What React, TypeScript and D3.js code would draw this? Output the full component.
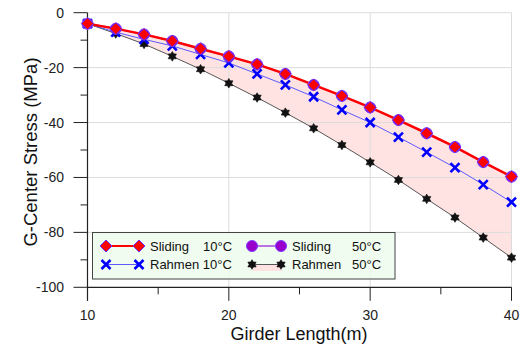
import React from "react";
import * as d3 from "d3";

const lengths = [10, 12, 14, 16, 18, 20, 22, 24, 26, 28, 30, 32, 34, 36, 38, 40];
const sliding10 = [-4.0, -5.8, -7.9, -10.3, -13.1, -15.9, -18.8, -22.3, -26.3, -30.3, -34.5, -39.1, -43.9, -48.9, -54.4, -59.7];
const sliding50 = [-4.0, -5.8, -7.9, -10.3, -13.1, -15.9, -18.8, -22.3, -26.3, -30.3, -34.5, -39.1, -43.9, -48.9, -54.4, -59.7];
const rahmen10 = [-4.0, -7.1, -9.7, -12.1, -15.2, -18.3, -22.3, -26.3, -30.6, -35.4, -40.0, -45.3, -50.8, -56.4, -62.6, -69.0];
const rahmen50 = [-4.0, -7.6, -11.4, -15.9, -20.6, -25.7, -30.9, -36.4, -42.1, -48.2, -54.5, -60.9, -67.8, -74.6, -81.9, -89.2];
const xMajor = [10, 20, 30, 40];
const xMinor = [15, 25, 35];
const yMajor = [0, -20, -40, -60, -80, -100];
const yMinor = [-10, -30, -50, -70, -90];

const x = d3.scaleLinear().domain([10, 40]).range([87.5, 511.5]);
const y = d3.scaleLinear().domain([0, -100]).range([12.7, 287.3]);

const FONT = "'Liberation Sans', Arial, sans-serif";

function Diamond({ cx, cy, r = 6 }: { cx: number; cy: number; r?: number }) {
  return (
    <path
      d={`M${cx},${cy - r}L${cx + r},${cy}L${cx},${cy + r}L${cx - r},${cy}Z`}
      fill="#ff0000"
      stroke="#6a2cff"
      strokeWidth={1}
    />
  );
}
function Cross({ cx, cy, r = 4.5 }: { cx: number; cy: number; r?: number }) {
  return (
    <path
      d={`M${cx - r},${cy - r}L${cx + r},${cy + r}M${cx - r},${cy + r}L${cx + r},${cy - r}`}
      stroke="#0000ff"
      strokeWidth={2.6}
      fill="none"
    />
  );
}
function Star({ cx, cy, r = 4.8 }: { cx: number; cy: number; r?: number }) {
  const pts: string[] = [];
  for (let i = 0; i < 12; i++) {
    const a = (Math.PI / 6) * i - Math.PI / 2;
    const rr = i % 2 === 0 ? r : r * 0.6;
    pts.push(`${cx + rr * Math.cos(a)},${cy + rr * Math.sin(a)}`);
  }
  return <polygon points={pts.join(" ")} fill="#111" stroke="#111" strokeWidth={0.6} />;
}
function Circle({ cx, cy, r = 5.5 }: { cx: number; cy: number; r?: number }) {
  return <circle cx={cx} cy={cy} r={r} fill="#9900cc" stroke="#7a3cff" strokeWidth={1} />;
}

export default function App() {
  const line = d3
    .line<number>()
    .x((_, i) => x(lengths[i]))
    .y((d) => y(d));
  const area = d3
    .area<number>()
    .x((_, i) => x(lengths[i]))
    .y0((_, i) => y(rahmen50[i]))
    .y1((d) => y(d));

  return (
    <svg
      width={524}
      height={346}
      style={{ position: "absolute", left: 0, top: 0, background: "#fff" }}
      fontFamily={FONT}
    >
      {/* fill band */}
      <path d={area(sliding10) || ""} fill="#ffe3e3" />
      {/* grid */}
      {xMajor.slice(1).map((v) => (
        <line key={"gx" + v} x1={x(v)} x2={x(v)} y1={y(0)} y2={y(-100)} stroke="#dcdcdc" strokeWidth={1} />
      ))}
      {yMajor.slice(0, -1).map((v) => (
        <line key={"gy" + v} x1={x(10)} x2={x(40)} y1={y(v)} y2={y(v)} stroke="#dcdcdc" strokeWidth={1} />
      ))}
      {/* axes */}
      <line x1={x(10)} x2={x(10)} y1={y(0)} y2={y(-100) + 13.5} stroke="#222" strokeWidth={1.2} />
      <line x1={x(10)} x2={x(40)} y1={y(-100)} y2={y(-100)} stroke="#222" strokeWidth={1.2} />
      {xMajor.map((v) => (
        <g key={"xt" + v}>
          <line x1={x(v)} x2={x(v)} y1={y(-100)} y2={y(-100) + 13.5} stroke="#222" strokeWidth={1} />
          <text x={x(v)} y={319.5} textAnchor="middle" fontSize={14} fill="#222">
            {v}
          </text>
        </g>
      ))}
      {xMinor.map((v) => (
        <line key={"xm" + v} x1={x(v)} x2={x(v)} y1={y(-100)} y2={y(-100) + 7} stroke="#222" strokeWidth={1} />
      ))}
      {yMajor.map((v) => (
        <g key={"yt" + v}>
          <line x1={x(10) - 14} x2={x(10)} y1={y(v)} y2={y(v)} stroke="#222" strokeWidth={1} />
          <text x={64} y={y(v) + 5} textAnchor="end" fontSize={14} fill="#222">
            {v}
          </text>
        </g>
      ))}
      {yMinor.map((v) => (
        <line key={"ym" + v} x1={x(10) - 7} x2={x(10)} y1={y(v)} y2={y(v)} stroke="#222" strokeWidth={1} />
      ))}
      {/* axis titles */}
      <text x={299} y={339.5} textAnchor="middle" fontSize={18} fill="#111">
        Girder Length(m)
      </text>
      <text
        transform="translate(37,152) rotate(-90)"
        textAnchor="middle"
        fontSize={18.5}
        fill="#111"
      >
        G-Center Stress (MPa)
      </text>
      {/* lines */}
      <path d={line(rahmen50) || ""} fill="none" stroke="#555" strokeWidth={1} />
      <path d={line(rahmen10) || ""} fill="none" stroke="#5a5aff" strokeWidth={1} />
      <path d={line(sliding50) || ""} fill="none" stroke="#aa44dd" strokeWidth={1.5} />
      <path d={line(sliding10) || ""} fill="none" stroke="#ff0000" strokeWidth={2.5} />
      {/* markers */}
      {rahmen50.map((v, i) => (
        <Star key={"s" + i} cx={x(lengths[i])} cy={y(v)} />
      ))}
      {rahmen10.map((v, i) => (
        <Cross key={"c" + i} cx={x(lengths[i])} cy={y(v)} />
      ))}
      {sliding50.map((v, i) => (
        <Circle key={"o" + i} cx={x(lengths[i])} cy={y(v)} />
      ))}
      {sliding10.map((v, i) => (
        <Diamond key={"d" + i} cx={x(lengths[i])} cy={y(v)} />
      ))}
      {/* legend */}
      <g>
        <rect x={92.5} y={232.5} width={302.5} height={46.5} fill="#eefcee" fillOpacity={0.9} stroke="#444" strokeWidth={1} />
        {/* row 1 */}
        <line x1={106} x2={139} y1={246} y2={246} stroke="#ff0000" strokeWidth={2} />
        <Diamond cx={106} cy={246} />
        <Diamond cx={139} cy={246} />
        <text x={150} y={250.5} fontSize={13} fill="#111">Sliding</text>
        <text x={203} y={250.5} fontSize={13} fill="#111">10°C</text>
        <line x1={252} x2={281} y1={246} y2={246} stroke="#aa44dd" strokeWidth={1.5} />
        <Circle cx={252} cy={246} />
        <Circle cx={281} cy={246} />
        <text x={292} y={250.5} fontSize={13} fill="#111">Sliding</text>
        <text x={352} y={250.5} fontSize={13} fill="#111">50°C</text>
        {/* row 2 */}
        <line x1={106} x2={139} y1={264.5} y2={264.5} stroke="#5a5aff" strokeWidth={1} />
        <Cross cx={106} cy={264.5} />
        <Cross cx={139} cy={264.5} />
        <text x={150} y={269} fontSize={13} fill="#111">Rahmen 10°C</text>
        <rect x={253} y={265} width={29} height={6} fill="#ffe3e3" />
        <line x1={252} x2={281} y1={264.5} y2={264.5} stroke="#555" strokeWidth={1} />
        <Star cx={252} cy={264.5} />
        <Star cx={281} cy={264.5} />
        <text x={292} y={269} fontSize={13} fill="#111">Rahmen</text>
        <text x={352} y={269} fontSize={13} fill="#111">50°C</text>
      </g>
    </svg>
  );
}
